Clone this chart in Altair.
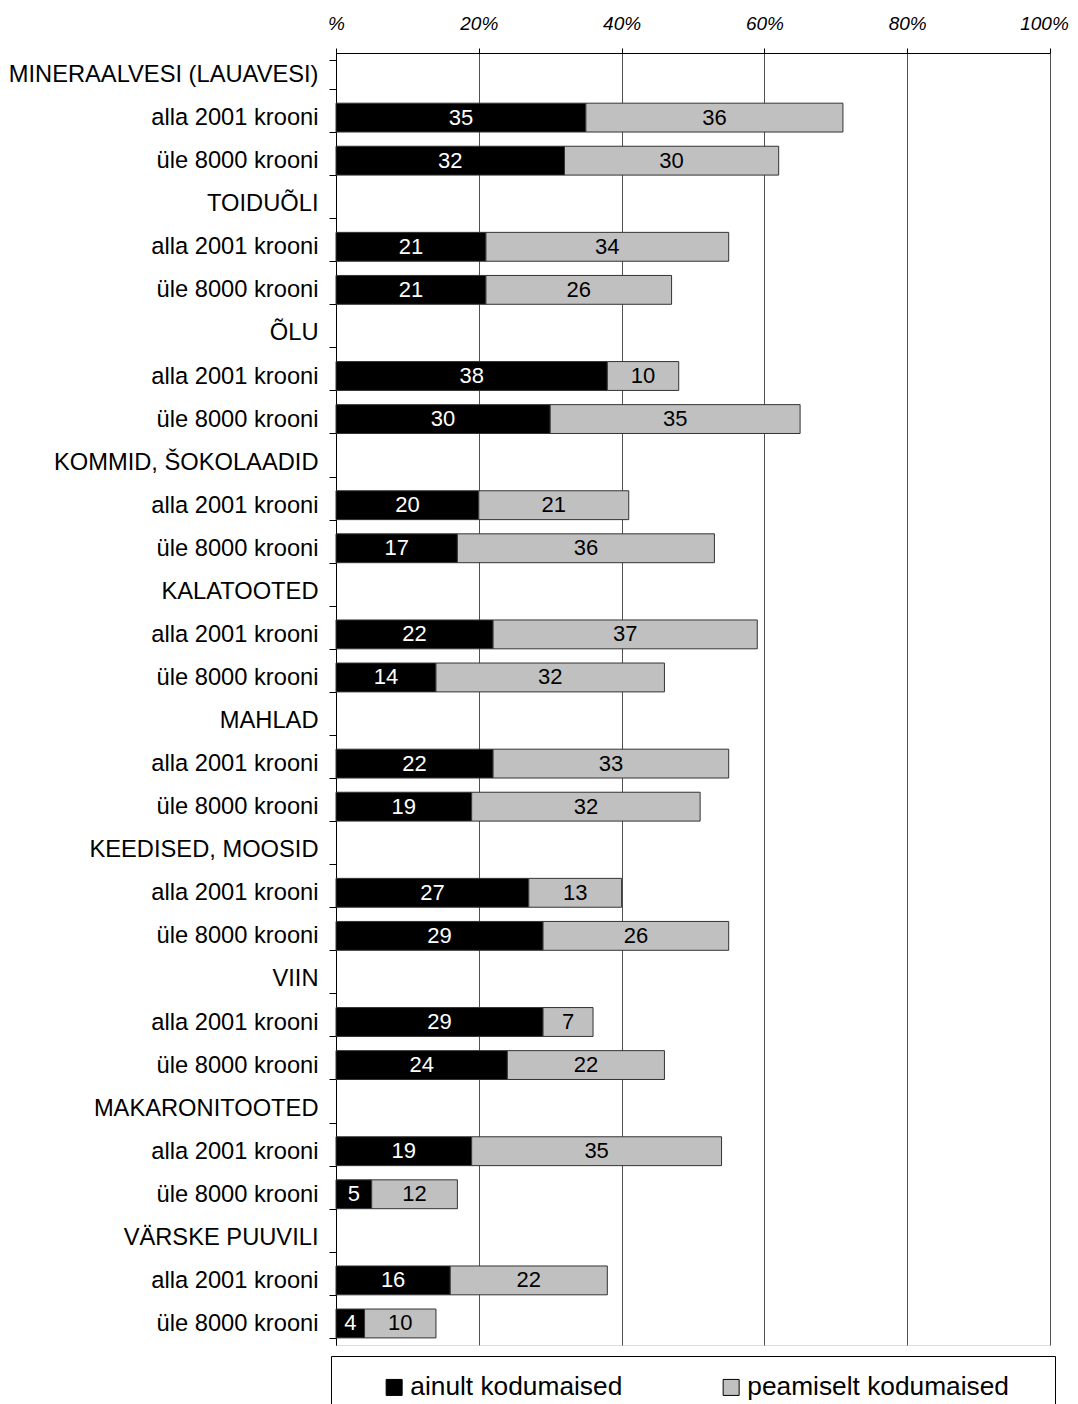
import altair as alt
import pandas as pd

categories = [
    "MINERAALVESI (LAUAVESI)", "TOIDUÕLI", "ÕLU", "KOMMID, ŠOKOLAADID",
    "KALATOOTED", "MAHLAD", "KEEDISED, MOOSID", "VIIN", "MAKARONITOOTED",
    "VÄRSKE PUUVILI",
]
groups = ["alla 2001 krooni", "üle 8000 krooni"]
series = ["ainult kodumaised", "peamiselt kodumaised"]

# values per category: [alla 2001, üle 8000]
ainult = [
    [35, 32], [21, 21], [38, 30], [20, 17], [22, 14],
    [22, 19], [27, 29], [29, 24], [19, 5], [16, 4],
]
peamiselt = [
    [36, 30], [34, 26], [10, 35], [21, 36], [37, 32],
    [33, 32], [13, 26], [7, 22], [35, 12], [22, 10],
]
x_ticks = [0, 20, 40, 60, 80, 100]

keys = []
rows = []
for ci, cat in enumerate(categories):
    keys.append(cat + "|")
    for gi, grp in enumerate(groups):
        k = cat + "|" + grp
        keys.append(k)
        a = ainult[ci][gi]
        p = peamiselt[ci][gi]
        rows.append({"key": k, "series": series[0], "value": a,
                     "start": 0, "end": a, "mid": a / 2, "txt": "white"})
        rows.append({"key": k, "series": series[1], "value": p,
                     "start": a, "end": a + p, "mid": a + p / 2, "txt": "black"})
df = pd.DataFrame(rows)

FONT = "Liberation Sans"

y_enc = alt.Y(
    "key:N",
    sort=keys,
    scale=alt.Scale(domain=keys, paddingInner=0.33, paddingOuter=0.165),
    axis=alt.Axis(
        title=None,
        labelExpr="split(datum.value, '|')[1] == '' ? split(datum.value, '|')[0] : split(datum.value, '|')[1]",
        labelFontSize=23.7, labelFont=FONT, labelColor="black", labelLimit=400,
        tickBand="extent", tickSize=7, tickColor="black", labelPadding=11,
        domainColor="black", grid=False,
    ),
)

x_scale = alt.Scale(domain=[0, 100], nice=False)
x_axis = alt.Axis(
    orient="top", title=None, values=x_ticks,
    labelExpr="datum.value == 0 ? '%' : datum.value + '%'",
    labelFontStyle="italic", labelFontSize=19, labelFont=FONT, labelColor="black",
    labelFlush=False, labelOverlap=False,
    labelOffset={"condition": {"test": "datum.value == 100", "value": -6}, "value": 0},
    tickSize=5, tickColor="black", domainColor="black", labelPadding=15,
    grid=True, gridColor="#505050", gridWidth=1,
)

bars = alt.Chart(df).mark_bar(stroke="#333333", strokeWidth=1).encode(
    x=alt.X("start:Q", scale=x_scale, axis=x_axis),
    x2="end:Q",
    y=y_enc,
    color=alt.Color(
        "series:N",
        scale=alt.Scale(domain=series, range=["#000000", "#c0c0c0"]),
        legend=alt.Legend(
            title="M", titleOrient="right", titleFontSize=30, titlePadding=3,
            titleColor="white",
            orient="none", legendX=-5, legendY=1303,
            direction="horizontal", columns=2,
            strokeColor="black", fillColor="white", padding=18,
            symbolType="square", symbolSize=256, symbolStrokeColor="black",
            symbolStrokeWidth=1, labelFontSize=26.3, labelFont=FONT,
            labelColor="black", labelLimit=400, columnPadding=63,
            labelOffset=3, symbolOffset=32,
        ),
    ),
)

texts = alt.Chart(df).mark_text(fontSize=22, font=FONT, align="center",
                                baseline="middle", dy=0).encode(
    x=alt.X("mid:Q", scale=x_scale),
    y=alt.Y("key:N", sort=keys),
    text=alt.Text("value:Q"),
    color=alt.Color("txt:N", scale=None),
)

chart = alt.layer(bars, texts).properties(
    width=714, height=1292,
    padding={"left": 0, "top": 6, "right": 0, "bottom": 5},
).configure_view(stroke="black", strokeWidth=1).configure(font=FONT)

chart.save("out.html", embed_options={"renderer": "svg", "actions": False})
